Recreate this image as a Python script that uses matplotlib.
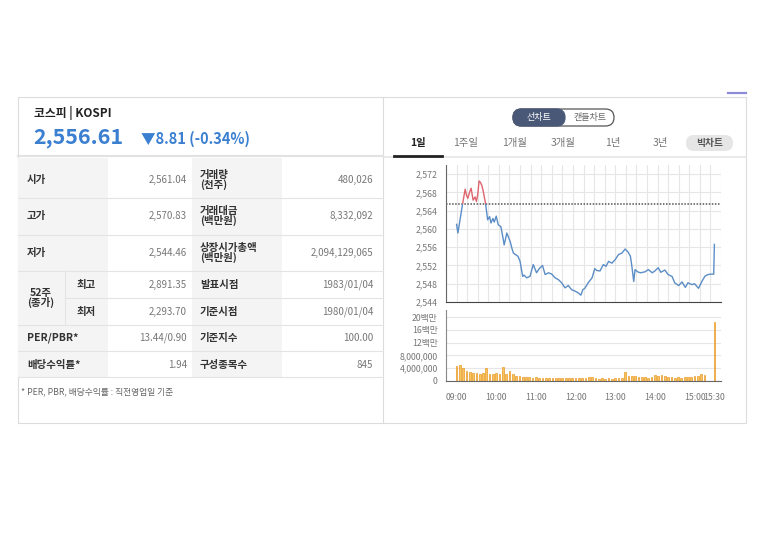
import numpy as np
import matplotlib
matplotlib.use("Agg")
import matplotlib.pyplot as plt
from matplotlib.patches import Rectangle, FancyBboxPatch

plt.rcParams['font.family'] = ['Noto Sans CJK KR', 'DejaVu Sans']

# ---- data ----
index_name = "코스피 | KOSPI"
last_price = "2,556.61"
change_text = "▼8.81 (-0.34%)"
prev_close = 2565.42

left_labels = ["시가", "고가", "저가", "최고", "최저", "PER/PBR*", "배당수익률*"]
left_values = ["2,561.04", "2,570.83", "2,544.46", "2,891.35", "2,293.70", "13.44/0.90", "1.94"]
right_labels = ["거래량\n(천주)", "거래대금\n(백만원)", "상장시가총액\n(백만원)", "발표시점",
                "기준시점", "기준지수", "구성종목수"]
right_values = ["480,026", "8,332,092", "2,094,129,065", "1983/01/04", "1980/01/04", "100.00", "845"]
footnote = "* PER, PBR, 배당수익률 : 직전영업일 기준"

tabs = ["1일", "1주일", "1개월", "3개월", "1년", "3년"]

# minutes after 09:00
price_time = [0, 2, 5, 9, 13, 15, 17, 20, 22, 25, 28, 30, 32, 34, 36, 38, 40, 44, 47, 50, 52,
              55, 57, 60, 63, 67, 70, 72, 76, 81, 84, 86, 90, 93, 96, 100, 102, 106, 111, 116,
              121, 125, 130, 134, 139, 144, 149, 154, 159, 164, 169, 174, 179, 184, 188, 191,
              194, 199, 205, 209, 212, 217, 222, 226, 230, 235, 240, 245, 250, 255, 259, 260,
              263, 265, 268, 270, 274, 278, 285, 290, 296, 300, 305, 309, 315, 320, 326, 330,
              336, 341, 346, 350, 356, 360, 366, 371, 376, 380, 385, 389, 390]
price_values = [2561.0, 2559.1, 2561.8, 2565.4, 2568.7, 2567.4, 2566.7, 2568.2, 2568.9, 2566.3,
                2567.0, 2566.0, 2567.5, 2570.5, 2570.2, 2569.6, 2568.5, 2565.4, 2562.0, 2562.7,
                2561.3, 2562.3, 2561.5, 2562.8, 2560.9, 2560.5, 2558.2, 2556.5, 2559.1, 2557.3,
                2555.6, 2554.7, 2554.3, 2554.0, 2552.9, 2549.6, 2549.9, 2549.3, 2549.6, 2552.2,
                2550.4, 2551.3, 2552.0, 2550.0, 2550.4, 2550.1, 2549.3, 2548.9, 2548.2, 2547.1,
                2547.6, 2546.7, 2546.4, 2546.0, 2545.5, 2546.7, 2547.0, 2548.2, 2549.3, 2551.3,
                2550.9, 2550.8, 2552.2, 2551.8, 2552.9, 2552.5, 2553.3, 2554.4, 2554.7, 2555.6,
                2555.0, 2554.8, 2554.0, 2552.0, 2548.5, 2551.1, 2550.6, 2550.4, 2550.6, 2551.1,
                2550.4, 2550.8, 2551.5, 2550.5, 2551.0, 2550.0, 2549.6, 2548.2, 2547.6, 2548.4,
                2547.2, 2548.2, 2547.8, 2548.0, 2547.0, 2548.5, 2549.7, 2550.0, 2550.1, 2550.1,
                2556.6]

vol_time = [0, 5, 10, 15, 20, 25, 30, 35, 40, 45, 50, 55, 60, 65, 70, 75, 80, 85, 90, 95, 100,
            105, 110, 115, 120, 125, 130, 135, 140, 145, 150, 155, 160, 165, 170, 175, 180, 185,
            190, 195, 200, 205, 210, 215, 220, 225, 230, 235, 240, 245, 250, 255, 260, 265, 270,
            275, 280, 285, 290, 295, 300, 305, 310, 315, 320, 325, 330, 335, 340, 345, 350, 355,
            360, 365, 370, 375, 390]
vol_values = [4.6, 5.1, 3.9, 3.1, 2.6, 2.3, 2.4, 2.1, 2.3, 3.9, 2.2, 2.0, 2.4, 2.1, 4.2, 2.0,
              3.0, 2.0, 1.6, 1.5, 1.3, 1.2, 1.1, 1.0, 1.1, 1.0, 0.9, 1.0, 0.9, 1.0, 0.8, 0.9,
              0.8, 0.9, 0.7, 0.8, 0.7, 0.8, 0.7, 1.0, 1.3, 1.2, 0.7, 0.6, 0.7, 0.6, 0.7, 0.6,
              0.7, 0.8, 0.7, 2.9, 1.6, 1.5, 1.4, 1.2, 1.3, 1.1, 1.0, 1.2, 1.7, 1.5, 1.8, 1.4,
              1.3, 1.1, 1.0, 1.1, 1.0, 1.2, 1.3, 1.1, 1.4, 1.5, 2.0, 1.7, 18.6]  # millions

price_ticks = [2544, 2548, 2552, 2556, 2560, 2564, 2568, 2572]
vol_ticks = [0, 4e6, 8e6, 12e6, 16e6, 20e6]
vol_tick_labels = ["0", "4,000,000", "8,000,000", "12백만", "16백만", "20백만"]
time_ticks = [0, 60, 120, 180, 240, 300, 360, 390]
time_labels = ["09:00", "10:00", "11:00", "12:00", "13:00", "14:00", "15:00", "15:30"]

W, H = 768, 542
fig = plt.figure(figsize=(W / 100, H / 100), dpi=100)
fig.patch.set_facecolor("white")

# background axes in pixel coordinates
bg = fig.add_axes([0, 0, 1, 1])
bg.set_xlim(0, W)
bg.set_ylim(H, 0)
bg.axis("off")

line_c = "#e4e4e4"
bg.add_patch(Rectangle((18, 97), 728, 326, fill=False, ec="#dcdcdc", lw=0.8))
bg.plot([383, 383], [97, 423], color="#dcdcdc", lw=0.8)
bg.plot([728, 746], [93, 93], color="#8c8cd6", lw=1.6)

# header
bg.text(34, 113, index_name, fontsize=8.5, color="#222", weight="bold", va="center")
bg.text(33, 137, last_price, fontsize=15.5, color="#3b7fd1", weight="bold", va="center")
bg.text(141, 139, change_text, fontsize=10.5, color="#3b7fd1", weight="bold", va="center")
bg.plot([18, 383], [156, 156], color="#e2e2e2", lw=1.5)

# table
row_y = [158, 198, 235, 271, 298, 325, 351, 377]
text_y = [180, 216, 253, 285, 312, 338, 365]
bg.add_patch(Rectangle((18, 158), 90, 219, fc="#f4f4f4", ec="none"))
bg.add_patch(Rectangle((192, 158), 90, 219, fc="#f4f4f4", ec="none"))
for y in row_y[1:]:
    x0 = 65 if y == 298 else 18
    bg.plot([x0, 383], [y, y], color=line_c, lw=0.8)
bg.plot([65, 65], [271, 325], color=line_c, lw=0.8)

for i in range(7):
    y = text_y[i]
    lx = 77 if i in (3, 4) else 27
    bg.text(lx, y, left_labels[i], fontsize=7.5, color="#333", weight="bold", va="center")
    bg.text(187, y, left_values[i], fontsize=7, color="#777", ha="right", va="center")
    bg.text(200, y, right_labels[i], fontsize=7.5, color="#333", weight="bold", va="center",
            linespacing=0.85)
    bg.text(373, y, right_values[i], fontsize=7, color="#777", ha="right", va="center")
bg.text(41, 298, "52주\n(종가)", fontsize=7.5, color="#333", weight="bold", ha="center",
        va="center", linespacing=0.85)
bg.text(21, 392, footnote, fontsize=6.3, color="#666", va="center")

# chart type toggle
bg.add_patch(FancyBboxPatch((513, 109), 101, 17, boxstyle="round,pad=0,rounding_size=8.5",
                            fc="white", ec="#555", lw=0.9))
bg.add_patch(FancyBboxPatch((513, 109), 52, 17, boxstyle="round,pad=0,rounding_size=8.5",
                            fc="#4a5878", ec="#4a5878", lw=0.9))
bg.text(539, 117.5, "선차트", fontsize=6.5, color="white", ha="center", va="center")
bg.text(590, 117.5, "캔들차트", fontsize=6.5, color="#666", ha="center", va="center")

tab_x = [418, 466, 515, 563, 613, 660]
for i, t in enumerate(tabs):
    bg.text(tab_x[i], 143, t, fontsize=7.5, color="#222" if i == 0 else "#777",
            weight="bold" if i == 0 else "normal", ha="center", va="center")
bg.add_patch(FancyBboxPatch((686, 135), 47, 16, boxstyle="round,pad=0,rounding_size=8",
                            fc="#e6e6e6", ec="none"))
bg.text(709.5, 143, "빅차트", fontsize=7, color="#555", weight="bold", ha="center", va="center")
bg.plot([383, 746], [157, 157], color="#e6e6e6", lw=1.2)
bg.plot([394, 442], [156, 156], color="#222", lw=2)


def ax_rect(x0, y0, x1, y1):
    return [x0 / W, 1 - y1 / H, (x1 - x0) / W, (y1 - y0) / H]


blue = "#5b8dc6"
red = "#e0646e"
grid_c = "#e6e6e6"

# price chart
ax = fig.add_axes(ax_rect(446, 165, 721, 302))
ax.set_xlim(-16, 400)
ax.set_ylim(2544, 2574)
ax.set_xticks(np.arange(-16, 401, 16))
ax.set_xticklabels([])
ax.set_yticks(price_ticks)
ax.set_yticklabels([f"{v:,}" for v in price_ticks])
ax.tick_params(length=0, labelsize=6.3, labelcolor="#777", pad=6)
ax.grid(True, color=grid_c, lw=0.8)
ax.set_axisbelow(True)
for s in ["top", "right"]:
    ax.spines[s].set_visible(False)
ax.spines["left"].set_color("#666")
ax.spines["bottom"].set_color("#444")
ax.axhline(prev_close, color="#555", lw=1.1, ls=(0, (1, 1)))
lb, = ax.plot(price_time, price_values, color=blue, lw=1.0)
lr, = ax.plot(price_time, price_values, color=red, lw=1.0)
clip_lo = Rectangle((-16, 2500), 420, prev_close - 2500, transform=ax.transData)
clip_hi = Rectangle((-16, prev_close), 420, 50, transform=ax.transData)
lb.set_clip_path(clip_lo)
lr.set_clip_path(clip_hi)

# volume chart
vx = fig.add_axes(ax_rect(446, 310, 721, 380.7))
vx.set_xlim(-16, 400)
vx.set_ylim(0, 22.3e6)
vx.bar(vol_time, np.array(vol_values) * 1e6, width=2.6, color="#f7c45e", edgecolor="#e99a28",
       lw=0.5)
vx.set_yticks(vol_ticks)
vx.set_yticklabels(vol_tick_labels)
vx.set_xticks(time_ticks)
vx.set_xticklabels(time_labels)
vx.tick_params(length=0, labelsize=6.3, labelcolor="#777", pad=6)
vx.tick_params(axis="x", pad=9)
vx.grid(True, axis="y", color=grid_c, lw=0.8)
vx.set_axisbelow(True)
for s in ["top", "right"]:
    vx.spines[s].set_visible(False)
vx.spines["left"].set_color("#888")
vx.spines["bottom"].set_color("#666")

fig.savefig("out.png", dpi=100)
